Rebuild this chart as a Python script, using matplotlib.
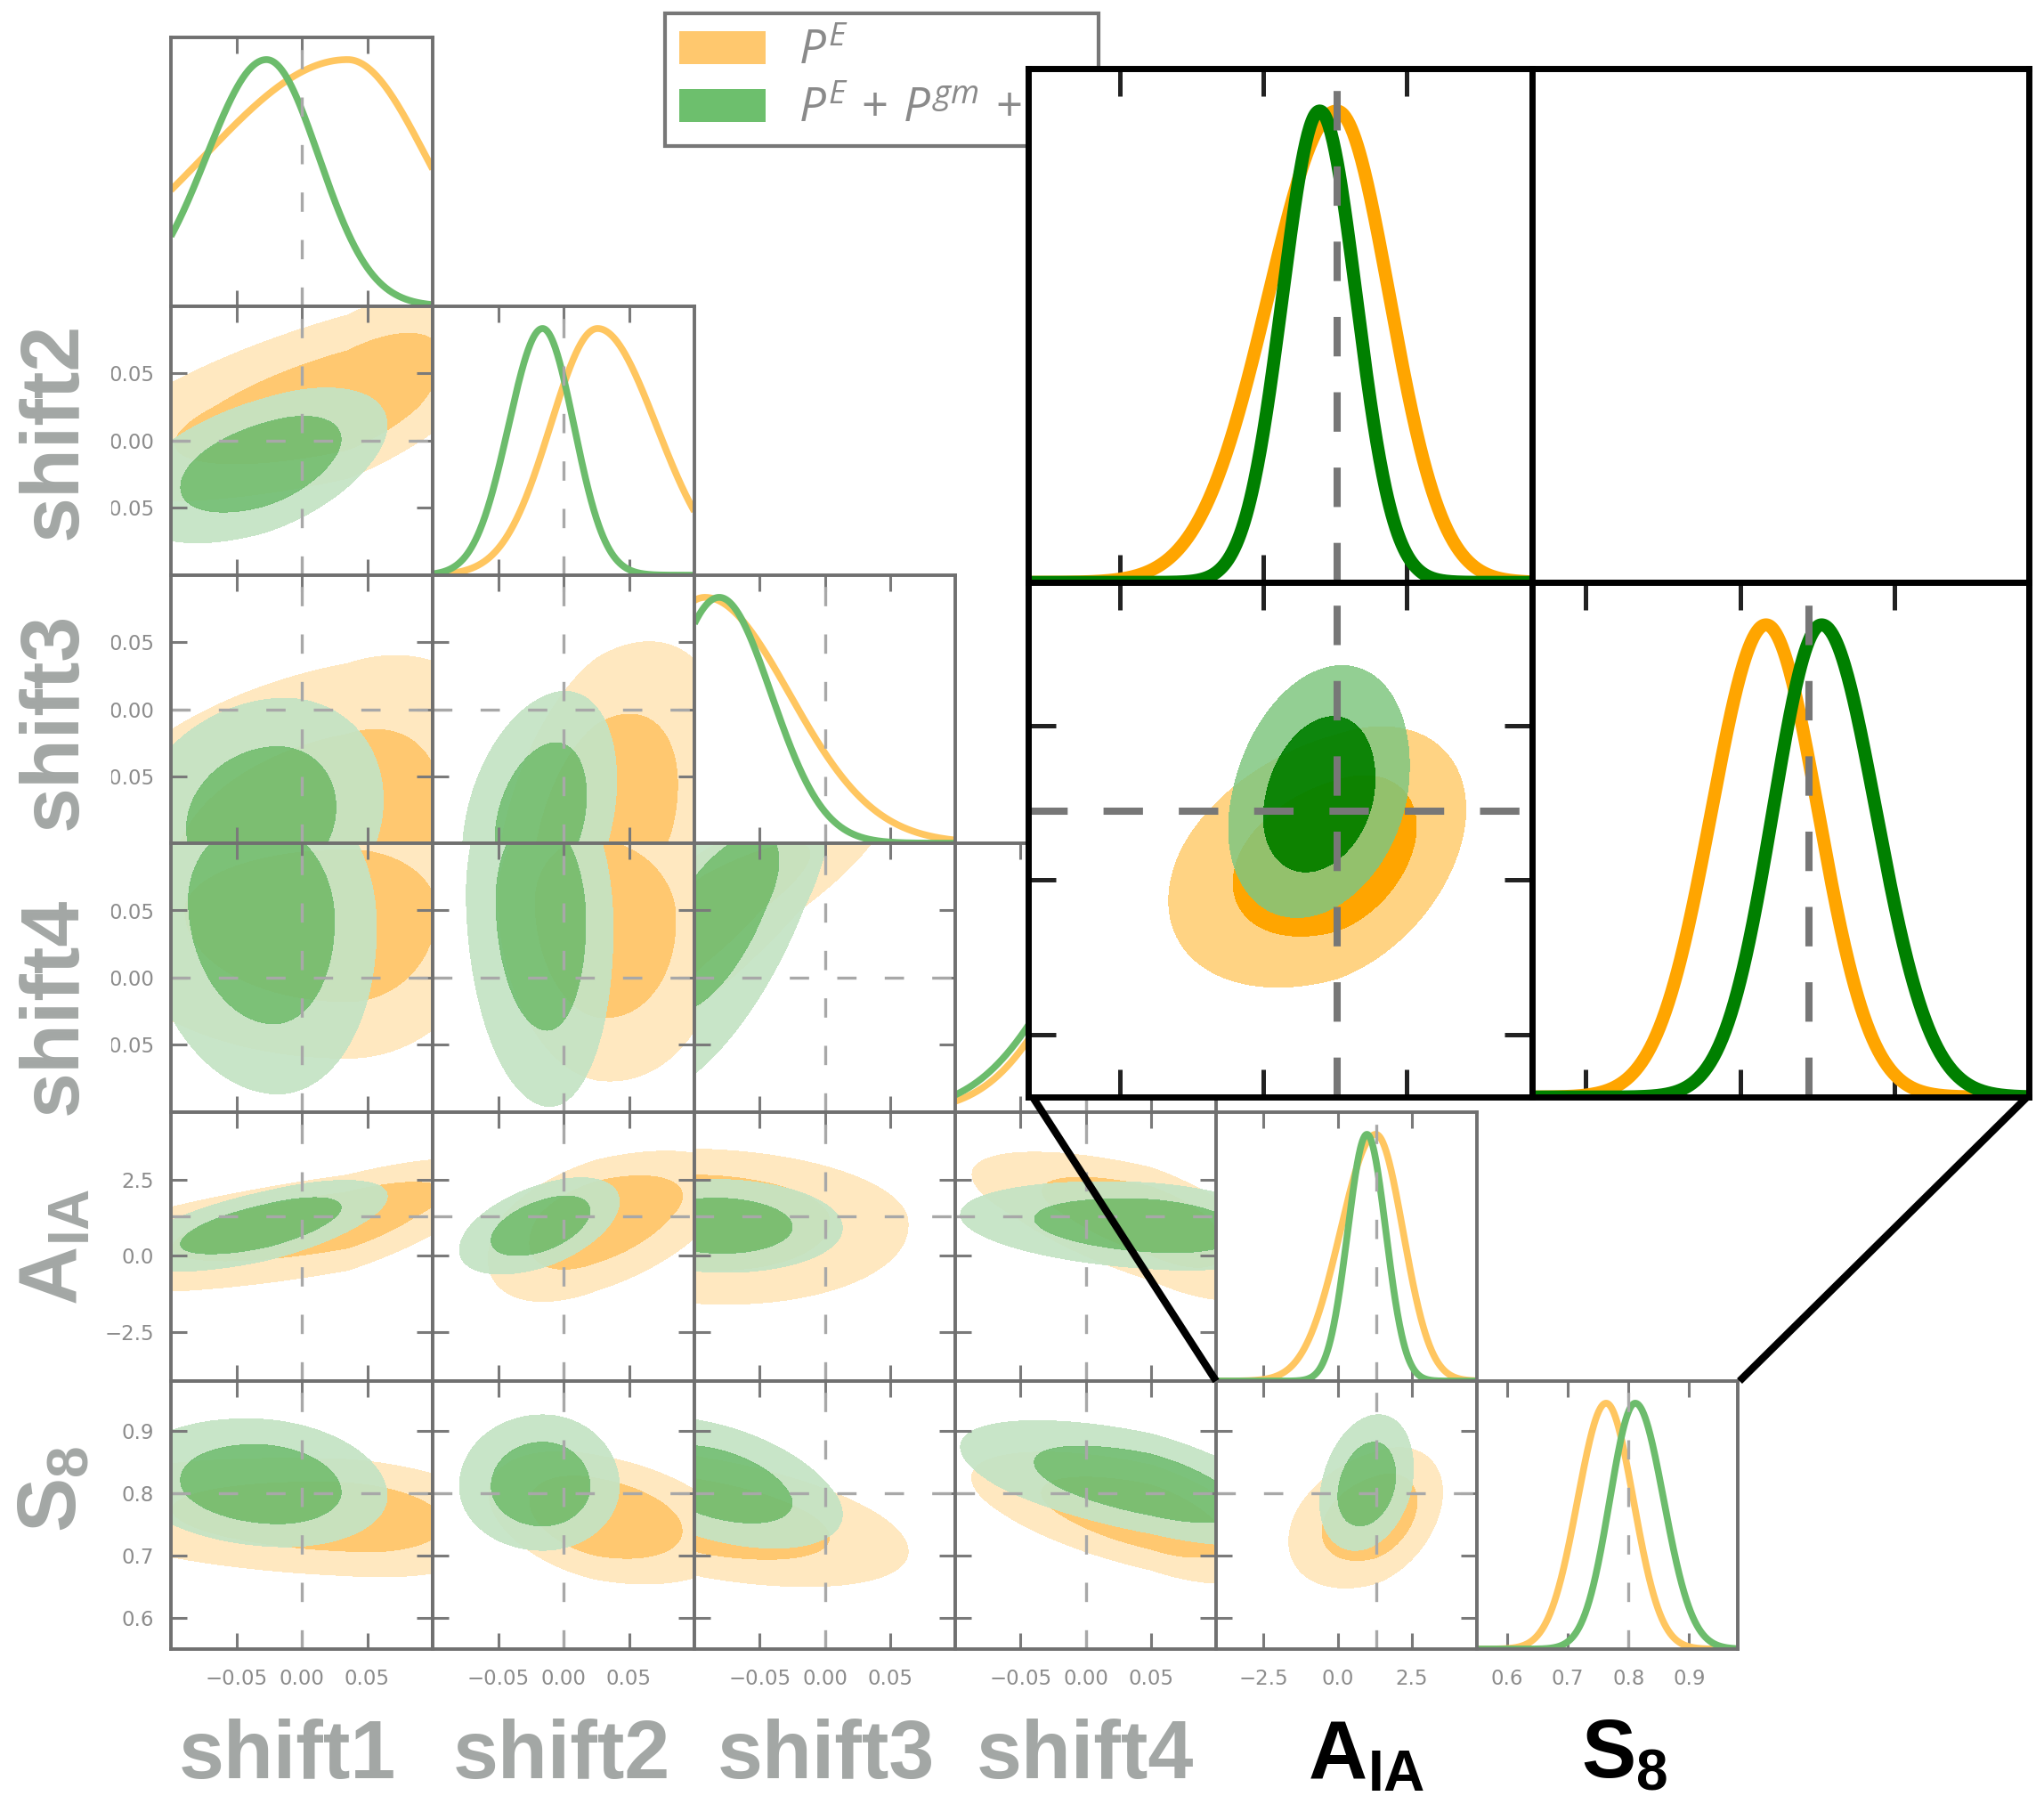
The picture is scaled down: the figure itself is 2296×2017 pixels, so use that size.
import numpy as np
import matplotlib
matplotlib.use("Agg")
import matplotlib.pyplot as plt
from matplotlib.patches import Patch, Rectangle
from matplotlib.lines import Line2D

# ---------------- data ----------------
param_names = ["shift1", "shift2", "shift3", "shift4", "AIA", "S8"]
axis_lo = [-0.1, -0.1, -0.1, -0.1, -4.1, 0.55]
axis_hi = [0.1, 0.1, 0.1, 0.1, 4.7, 0.98]
truth = [0.0, 0.0, 0.0, 0.0, 1.3, 0.8]
tick_values = [[-0.05, 0.0, 0.05]] * 4 + [[-2.5, 0.0, 2.5], [0.6, 0.7, 0.8, 0.9]]
tick_labels = [["\u22120.05", "0.00", "0.05"]] * 4 + [["\u22122.5", "0.0", "2.5"],
                                                      ["0.6", "0.7", "0.8", "0.9"]]

# P^E (orange): mode, lower/upper widths, pairwise correlations
pe_mode = [0.035, 0.026, -0.092, 0.05, 1.29, 0.763]
pe_sig_lo = [0.11, 0.036, 0.05, 0.06, 1.2, 0.047]
pe_sig_hi = [0.06, 0.045, 0.065, 0.04, 0.92, 0.045]
pe_corr = [[1.0, 0.65, 0.30, 0.00, 0.70, -0.20],
           [0.65, 1.0, 0.40, -0.10, 0.50, -0.35],
           [0.30, 0.40, 1.0, 0.85, -0.10, -0.50],
           [0.00, -0.10, 0.85, 1.0, -0.65, -0.60],
           [0.70, 0.50, -0.10, -0.65, 1.0, 0.35],
           [-0.20, -0.35, -0.50, -0.60, 0.35, 1.0]]

# P^E + P^gm + P^gg (green)
pc_mode = [-0.027, -0.016, -0.081, 0.05, 0.99, 0.811]
pc_sig_lo = [0.046, 0.026, 0.040, 0.065, 0.65, 0.042]
pc_sig_hi = [0.040, 0.024, 0.040, 0.05, 0.64, 0.047]
pc_corr = [[1.0, 0.50, 0.15, -0.10, 0.65, -0.15],
           [0.50, 1.0, 0.30, -0.10, 0.50, 0.00],
           [0.15, 0.30, 1.0, 0.65, -0.05, -0.45],
           [-0.10, -0.10, 0.65, 1.0, -0.25, -0.60],
           [0.65, 0.50, -0.05, -0.25, 1.0, 0.25],
           [-0.15, 0.00, -0.45, -0.60, 0.25, 1.0]]

legend_labels = [r"$P^E$", r"$P^E\,+\,P^{gm}\,+\,P^{gg}$"]

# zoomed inset ranges / ticks
inset_aia_lim = (-4.1, 4.7)
inset_s8_xlim = (0.561, 0.99)
inset_s8_ylim = (0.553, 0.998)
inset_aia_ticks = [-2.5, 0.0, 2.5]
inset_s8_ticks = [0.607, 0.741, 0.874]

# ---------------- style ----------------
plt.rcParams["mathtext.fontset"] = "custom"
plt.rcParams["mathtext.it"] = "Open Sans:italic"
plt.rcParams["mathtext.rm"] = "Open Sans"
plt.rcParams["mathtext.bf"] = "Liberation Sans:bold"

W, H = 2296, 2017
fig = plt.figure(figsize=(W / 100, H / 100), dpi=100)

XE = [192, 486, 780, 1073, 1366, 1659, 1952]
YE = [42, 344, 646, 947, 1249, 1551, 1852]

M_O2, M_O1, M_OL = "#FFE8C0", "#FFC870", "#FFC660"
M_G2, M_G1, M_GL = "#C4E3C4", "#72BE72", "#6CBC6C"
I_O2, I_O1, I_OL = "#FFD383", "#FFA500", "#FFA500"
I_G2, I_G1, I_GL = (0.50, 0.78, 0.50, 0.85), (0.0, 0.5, 0.0, 0.95), "#008000"

datasets = [(pe_mode, pe_sig_lo, pe_sig_hi, pe_corr),
            (pc_mode, pc_sig_lo, pc_sig_hi, pc_corr)]


def px_rect(x0, y0, x1, y1):
    return [x0 / W, 1 - y1 / H, (x1 - x0) / W, (y1 - y0) / H]


def zval(v, m, lo, hi):
    return np.where(v < m, (v - m) / lo, (v - m) / hi)


def curve1d(ds, i, lim, n=500):
    mode, slo, shi, _ = ds
    x = np.linspace(lim[0], lim[1], n)
    y = np.exp(-0.5 * zval(x, mode[i], slo[i], shi[i]) ** 2)
    return x, y / y.max()


def dens2d(ds, i, j, xlim, ylim, n=320):
    mode, slo, shi, corr = ds
    x = np.linspace(xlim[0], xlim[1], n)
    y = np.linspace(ylim[0], ylim[1], n)
    X, Y = np.meshgrid(x, y)
    zx = zval(X, mode[i], slo[i], shi[i])
    zy = zval(Y, mode[j], slo[j], shi[j])
    r = corr[i][j]
    D = np.exp(-0.5 * (zx ** 2 - 2 * r * zx * zy + zy ** 2) / (1 - r ** 2))
    flat = np.sort(D.ravel())[::-1]
    cum = np.cumsum(flat)
    cum /= cum[-1]
    l68 = flat[np.searchsorted(cum, 0.68)]
    l95 = flat[np.searchsorted(cum, 0.95)]
    return X, Y, D, [l95, l68, D.max() * 1.001 + 1e-12]


def style_main(ax, twod):
    for s in ax.spines.values():
        s.set_color("#707070")
        s.set_linewidth(2.8)
    ax.tick_params(axis="both", direction="in", length=13, width=2.2,
                   color="#7A7A7A", labelcolor="#8C8C8C", labelsize=16.5,
                   top=True, right=twod)
    ax.tick_params(axis="x", pad=16)
    ax.tick_params(axis="y", pad=13.5)


DASH_MAIN = dict(color="#A8A8A8", lw=2.4, ls=(0, (6.5, 9.5)))

# ---------------- main triangle ----------------
for r in range(6):
    for c in range(r + 1):
        ax = fig.add_axes(px_rect(XE[c], YE[r], XE[c + 1], YE[r + 1]))
        xlim = (axis_lo[c], axis_hi[c])
        if r == c:
            for ds, col in zip(datasets, [M_OL, M_GL]):
                x, y = curve1d(ds, c, xlim)
                ax.plot(x, y, color=col, lw=5.5, solid_capstyle="butt")
            ax.axvline(truth[c], **DASH_MAIN)
            ax.set_ylim(0, 1.09)
            ax.set_yticks([])
            style_main(ax, False)
        else:
            ylim = (axis_lo[r], axis_hi[r])
            for ds, cols, a in zip(datasets, [[M_O2, M_O1], [M_G2, M_G1]], [1.0, 0.93]):
                X, Y, D, lev = dens2d(ds, c, r, xlim, ylim)
                ax.contourf(X, Y, D, levels=lev, colors=cols, alpha=a)
            ax.axvline(truth[c], **DASH_MAIN)
            ax.axhline(truth[r], **DASH_MAIN)
            ax.set_ylim(*ylim)
            ax.set_yticks(tick_values[r])
            if c == 0:
                ax.set_yticklabels(tick_labels[r])
            else:
                ax.tick_params(axis="y", labelleft=False)
            style_main(ax, True)
        ax.set_xlim(*xlim)
        ax.set_xticks(tick_values[c])
        if r == 5:
            ax.set_xticklabels(tick_labels[c])
        else:
            ax.tick_params(axis="x", labelbottom=False)

# white strip hiding the left part of the shift tick labels (as in reference)
fig.add_artist(Rectangle((0, 1 - 1249 / H), 125 / W, (1249 - 344) / H,
                         transform=fig.transFigure, facecolor="white",
                         edgecolor="none", zorder=1))

# ---------------- axis labels ----------------
GRAY = "#A3A7A5"
bottom_x = [323, 631, 928, 1219, 1535, 1825]
bottom_txt = ["shift1", "shift2", "shift3", "shift4",
              r"$\mathbf{A}_{\mathbf{IA}}$", r"$\mathbf{S}_{\mathbf{8}}$"]
bottom_col = [GRAY, GRAY, GRAY, GRAY, "black", "black"]
for xx, t, colr in zip(bottom_x, bottom_txt, bottom_col):
    fig.text(xx / W, 1 - 1997 / H, t, ha="center", va="baseline",
             fontsize=66, fontweight="bold", family="Liberation Sans", color=colr)

left_y = [484, 810, 1130, 1400, 1672]
for yy, t in zip(left_y, bottom_txt[1:]):
    fig.text(62 / W, 1 - yy / H, t, ha="center", va="center", rotation=90,
             fontsize=66, fontweight="bold", family="Liberation Sans", color=GRAY)

# ---------------- legend ----------------
handles = [Patch(facecolor="#FFC86E", edgecolor="none"),
           Patch(facecolor="#6DBF6D", edgecolor="none")]
leg = fig.legend(handles, legend_labels, loc="upper left",
                 bbox_to_anchor=(747 / W, 1 - 161 / H, 487 / W, 146 / H),
                 mode="expand", fontsize=38, frameon=True, fancybox=False,
                 edgecolor="#777777", framealpha=1, borderpad=0.3,
                 handlelength=1.85, handleheight=0.7, handletextpad=0.7,
                 labelspacing=0.25, borderaxespad=0)
leg.get_frame().set_linewidth(3)
for t in leg.get_texts():
    t.set_color("#8A8A8A")

# ---------------- zoomed inset ----------------
IX = [1155, 1721, 2279]
IY = [77, 654, 1232]
DASH_IN = dict(color="#777777", lw=5.8, ls=(0, (5.5, 5.0)))


def style_inset(ax):
    ax.set_zorder(10)
    ax.set_facecolor("white")
    for s in ax.spines.values():
        s.set_color("black")
        s.set_linewidth(5)
    ax.tick_params(axis="both", direction="in", length=22, width=3.6,
                   color="#222222", labelbottom=False, labelleft=False,
                   top=True, right=True)


in_a = fig.add_axes(px_rect(IX[0], IY[0], IX[1], IY[1]))
in_e = fig.add_axes(px_rect(IX[1], IY[0], IX[2], IY[1]))
in_c = fig.add_axes(px_rect(IX[0], IY[1], IX[1], IY[2]))
in_s = fig.add_axes(px_rect(IX[1], IY[1], IX[2], IY[2]))

for ds, col in zip(datasets, [I_OL, I_GL]):
    x, y = curve1d(ds, 4, inset_aia_lim)
    in_a.plot(x, y, color=col, lw=10.5, solid_capstyle="butt")
    x, y = curve1d(ds, 5, inset_s8_xlim)
    in_s.plot(x, y, color=col, lw=10.5, solid_capstyle="butt")
for ds, cols in zip(datasets, [[I_O2, I_O1], [I_G2, I_G1]]):
    X, Y, D, lev = dens2d(ds, 4, 5, inset_aia_lim, inset_s8_ylim)
    in_c.contourf(X, Y, D, levels=lev, colors=cols)

in_a.axvline(truth[4], **DASH_IN)
in_c.axvline(truth[4], **DASH_IN)
in_c.axhline(truth[5], **DASH_IN)
in_s.axvline(truth[5], **DASH_IN)

for ax in [in_a, in_c]:
    ax.set_xlim(*inset_aia_lim)
    ax.set_xticks(inset_aia_ticks)
in_s.set_xlim(*inset_s8_xlim)
in_s.set_xticks(inset_s8_ticks)
in_c.set_ylim(*inset_s8_ylim)
in_c.set_yticks(inset_s8_ticks)
for ax in [in_a, in_s]:
    ax.set_ylim(0, 1.09)
    ax.set_yticks([])
in_e.set_xticks([])
in_e.set_yticks([])
for ax in [in_a, in_e, in_c, in_s]:
    style_inset(ax)

# connector lines from inset to the zoomed block
for (x0, y0), (x1, y1) in [((1160, 1232), (1366, 1551)), ((2277, 1232), (1954, 1551))]:
    fig.add_artist(Line2D([x0 / W, x1 / W], [1 - y0 / H, 1 - y1 / H],
                          transform=fig.transFigure, color="black", lw=6,
                          solid_capstyle="butt", zorder=12))

fig.savefig("out.png", dpi=100)
